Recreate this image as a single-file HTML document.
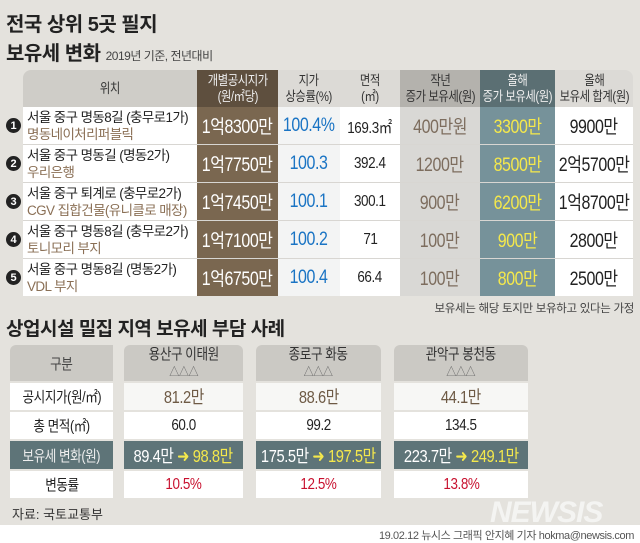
<!DOCTYPE html>
<html><head><meta charset="utf-8">
<style>
*{margin:0;padding:0;box-sizing:border-box}
body{width:640px;height:543px;background:#e4e2dd;font-family:"Liberation Sans","Noto Sans CJK KR",sans-serif;position:relative;overflow:hidden;color:#222}
.a{position:absolute}
.c{position:absolute;display:flex;align-items:center;justify-content:center;text-align:center;letter-spacing:-0.5px}
.c i{font-style:normal;display:inline-block;transform:scaleX(.84);white-space:nowrap}
.t1{left:6px;top:8px;font-size:20px;font-weight:bold;color:#222;letter-spacing:-0.5px}
.t2{left:6px;top:37px;font-size:20px;font-weight:bold;color:#222;letter-spacing:-0.5px}
.sub{font-size:12px;font-weight:normal;color:#444}
.h{font-size:13.5px;line-height:16px;color:#333}
.loc{position:absolute;left:23px;width:174px;background:#fff;padding-left:4px;font-size:13.5px;line-height:17px;letter-spacing:-0.6px;color:#222;display:flex;flex-direction:column;justify-content:center}
.loc span{color:#8a6f55}
.n{position:absolute;left:6px;width:15px;height:15px;border-radius:50%;background:#222;color:#fff;font-size:11px;font-weight:bold;display:flex;align-items:center;justify-content:center}
.v{font-size:19px}
.b{font-size:17.5px}
</style></head><body>
<div class="a t1">전국 상위 5곳 필지</div>
<div class="a t2">보유세 변화 <span class="sub">2019년 기준, 전년대비</span></div>

<div class="c h" style="left:23px;top:70px;width:174px;height:37px;background:#cfcdc8;border-radius:8px 0 0 0"><i>위치</i></div>
<div class="c h" style="left:197px;top:70px;width:81px;height:37px;background:#5e4f3e;color:#eee"><i>개별공시지가<br>(원/㎡당)</i></div>
<div class="c h" style="left:278px;top:70px;width:62px;height:37px;background:#dcdad6"><i>지가<br>상승률(%)</i></div>
<div class="c h" style="left:340px;top:70px;width:60px;height:37px;background:#dcdad6"><i>면적<br>(㎡)</i></div>
<div class="c h" style="left:400px;top:70px;width:80px;height:37px;background:#b4b2ad"><i>작년<br>증가 보유세(원)</i></div>
<div class="c h" style="left:480px;top:70px;width:75px;height:37px;background:#5b6f73;color:#eee"><i>올해<br>증가 보유세(원)</i></div>
<div class="c h" style="left:555px;top:70px;width:78px;height:37px;background:#dcdad6;border-radius:0 8px 0 0"><i>올해<br>보유세 합계(원)</i></div>

<div class="a" style="left:197px;top:107px;width:81px;height:189px;background:#7a6750"></div>
<div class="a" style="left:278px;top:107px;width:62px;height:189px;background:#f3f4f4"></div>
<div class="a" style="left:340px;top:107px;width:60px;height:189px;background:#fff"></div>
<div class="a" style="left:400px;top:107px;width:80px;height:189px;background:#d9d8d5"></div>
<div class="a" style="left:480px;top:107px;width:75px;height:189px;background:#76929a"></div>
<div class="a" style="left:555px;top:107px;width:78px;height:189px;background:#fff"></div>
<div class="a" style="left:23px;top:144px;width:610px;height:1px;background:#d8d6d2"></div>
<div class="a" style="left:23px;top:182px;width:610px;height:1px;background:#d8d6d2"></div>
<div class="a" style="left:23px;top:220px;width:610px;height:1px;background:#d8d6d2"></div>
<div class="a" style="left:23px;top:258px;width:610px;height:1px;background:#d8d6d2"></div>

<div class="loc" style="top:107px;height:37px">서울 중구 명동8길 (충무로1가)<span>명동네이처리퍼블릭</span></div>
<div class="n" style="top:118px">1</div>
<div class="c v" style="left:197px;top:107px;width:81px;height:37px;color:#fff"><i>1억8300만</i></div>
<div class="c v" style="left:278px;top:107px;width:62px;height:37px;color:#1a74c4"><i>100.4%</i></div>
<div class="c" style="left:340px;top:107px;width:60px;height:37px;font-size:16px"><i>169.3㎡</i></div>
<div class="c v" style="left:400px;top:107px;width:80px;height:37px;color:#7d6d5e"><i>400만원</i></div>
<div class="c v" style="left:480px;top:107px;width:75px;height:37px;color:#f4e84c"><i>3300만</i></div>
<div class="c v" style="left:555px;top:107px;width:78px;height:37px"><i>9900만</i></div>

<div class="loc" style="top:145px;height:37px">서울 중구 명동길 (명동2가)<span>우리은행</span></div>
<div class="n" style="top:156px">2</div>
<div class="c v" style="left:197px;top:145px;width:81px;height:37px;color:#fff"><i>1억7750만</i></div>
<div class="c v" style="left:278px;top:145px;width:62px;height:37px;color:#1a74c4"><i>100.3</i></div>
<div class="c" style="left:340px;top:145px;width:60px;height:37px;font-size:16px"><i>392.4</i></div>
<div class="c v" style="left:400px;top:145px;width:80px;height:37px;color:#7d6d5e"><i>1200만</i></div>
<div class="c v" style="left:480px;top:145px;width:75px;height:37px;color:#f4e84c"><i>8500만</i></div>
<div class="c v" style="left:555px;top:145px;width:78px;height:37px"><i>2억5700만</i></div>

<div class="loc" style="top:183px;height:37px">서울 중구 퇴계로 (충무로2가)<span>CGV 집합건물(유니클로 매장)</span></div>
<div class="n" style="top:194px">3</div>
<div class="c v" style="left:197px;top:183px;width:81px;height:37px;color:#fff"><i>1억7450만</i></div>
<div class="c v" style="left:278px;top:183px;width:62px;height:37px;color:#1a74c4"><i>100.1</i></div>
<div class="c" style="left:340px;top:183px;width:60px;height:37px;font-size:16px"><i>300.1</i></div>
<div class="c v" style="left:400px;top:183px;width:80px;height:37px;color:#7d6d5e"><i>900만</i></div>
<div class="c v" style="left:480px;top:183px;width:75px;height:37px;color:#f4e84c"><i>6200만</i></div>
<div class="c v" style="left:555px;top:183px;width:78px;height:37px"><i>1억8700만</i></div>

<div class="loc" style="top:221px;height:37px">서울 중구 명동8길 (충무로2가)<span>토니모리 부지</span></div>
<div class="n" style="top:232px">4</div>
<div class="c v" style="left:197px;top:221px;width:81px;height:37px;color:#fff"><i>1억7100만</i></div>
<div class="c v" style="left:278px;top:221px;width:62px;height:37px;color:#1a74c4"><i>100.2</i></div>
<div class="c" style="left:340px;top:221px;width:60px;height:37px;font-size:16px"><i>71</i></div>
<div class="c v" style="left:400px;top:221px;width:80px;height:37px;color:#7d6d5e"><i>100만</i></div>
<div class="c v" style="left:480px;top:221px;width:75px;height:37px;color:#f4e84c"><i>900만</i></div>
<div class="c v" style="left:555px;top:221px;width:78px;height:37px"><i>2800만</i></div>

<div class="loc" style="top:259px;height:37px">서울 중구 명동8길 (명동2가)<span>VDL 부지</span></div>
<div class="n" style="top:270px">5</div>
<div class="c v" style="left:197px;top:259px;width:81px;height:37px;color:#fff"><i>1억6750만</i></div>
<div class="c v" style="left:278px;top:259px;width:62px;height:37px;color:#1a74c4"><i>100.4</i></div>
<div class="c" style="left:340px;top:259px;width:60px;height:37px;font-size:16px"><i>66.4</i></div>
<div class="c v" style="left:400px;top:259px;width:80px;height:37px;color:#7d6d5e"><i>100만</i></div>
<div class="c v" style="left:480px;top:259px;width:75px;height:37px;color:#f4e84c"><i>800만</i></div>
<div class="c v" style="left:555px;top:259px;width:78px;height:37px"><i>2500만</i></div>

<div class="a" style="right:6px;top:300px;font-size:11.5px;color:#444;letter-spacing:-0.3px">보유세는 해당 토지만 보유하고 있다는 가정</div>
<div class="a" style="left:6px;top:314px;font-size:19px;font-weight:bold;color:#222;letter-spacing:-0.5px">상업시설 밀집 지역 보유세 부담 사례</div>

<div class="c" style="left:10px;top:345px;width:103px;height:36px;background:#cbc9c4;font-size:15px;color:#444;border-radius:6px 0 0 0"><i>구분</i></div>
<div class="c" style="left:124px;top:345px;width:119px;height:36px;background:#cbc9c4;font-size:15px;line-height:17px;color:#333;border-radius:6px 6px 0 0"><i>용산구 이태원<br><span style="font-size:12px;color:#666">△△△</span></i></div>
<div class="c" style="left:256px;top:345px;width:125px;height:36px;background:#cbc9c4;font-size:15px;line-height:17px;color:#333;border-radius:6px 6px 0 0"><i>종로구 화동<br><span style="font-size:12px;color:#666">△△△</span></i></div>
<div class="c" style="left:394px;top:345px;width:134px;height:36px;background:#cbc9c4;font-size:15px;line-height:17px;color:#333;border-radius:6px 6px 0 0"><i>관악구 봉천동<br><span style="font-size:12px;color:#666">△△△</span></i></div>

<div class="c" style="left:10px;top:383px;width:103px;height:27px;background:#fff;font-size:15px"><i>공시지가(원/㎡)</i></div>
<div class="c b" style="left:124px;top:383px;width:119px;height:27px;background:#f7f7f5;color:#6e5a45"><i>81.2만</i></div>
<div class="c b" style="left:256px;top:383px;width:125px;height:27px;background:#f7f7f5;color:#6e5a45"><i>88.6만</i></div>
<div class="c b" style="left:394px;top:383px;width:134px;height:27px;background:#f7f7f5;color:#6e5a45"><i>44.1만</i></div>

<div class="c" style="left:10px;top:412px;width:103px;height:27px;background:#fff;font-size:15px"><i>총 면적(㎡)</i></div>
<div class="c" style="left:124px;top:412px;width:119px;height:27px;background:#fff;font-size:16px"><i>60.0</i></div>
<div class="c" style="left:256px;top:412px;width:125px;height:27px;background:#fff;font-size:16px"><i>99.2</i></div>
<div class="c" style="left:394px;top:412px;width:134px;height:27px;background:#fff;font-size:16px"><i>134.5</i></div>

<div class="c" style="left:10px;top:441px;width:103px;height:28px;background:#5e7478;font-size:15px;color:#eee"><i>보유세 변화(원)</i></div>
<div class="c b" style="left:124px;top:441px;width:119px;height:28px;background:#5e7478;color:#fff"><i>89.4만 <span style="color:#f4e84c">➜ 98.8만</span></i></div>
<div class="c b" style="left:256px;top:441px;width:125px;height:28px;background:#5e7478;color:#fff"><i>175.5만 <span style="color:#f4e84c">➜ 197.5만</span></i></div>
<div class="c b" style="left:394px;top:441px;width:134px;height:28px;background:#5e7478;color:#fff"><i>223.7만 <span style="color:#f4e84c">➜ 249.1만</span></i></div>

<div class="c" style="left:10px;top:471px;width:103px;height:27px;background:#fff;font-size:15px"><i>변동률</i></div>
<div class="c" style="left:124px;top:471px;width:119px;height:27px;background:#fff;font-size:16px;color:#c8102e"><i>10.5%</i></div>
<div class="c" style="left:256px;top:471px;width:125px;height:27px;background:#fff;font-size:16px;color:#c8102e"><i>12.5%</i></div>
<div class="c" style="left:394px;top:471px;width:134px;height:27px;background:#fff;font-size:16px;color:#c8102e"><i>13.8%</i></div>

<div class="a" style="left:12px;top:504px;font-size:13px;color:#333">자료: 국토교통부</div>
<div class="a" style="left:490px;top:496px;font-size:30px;font-weight:bold;font-style:italic;color:#f4f4f2;letter-spacing:-1px">NEWSIS</div>
<div class="a" style="left:0;top:525px;width:640px;height:18px;background:#fff"></div>
<div class="a" style="right:6px;top:527px;font-size:11px;color:#555;letter-spacing:-0.4px">19.02.12 뉴시스 그래픽 안지혜 기자 hokma@newsis.com</div>
</body></html>
